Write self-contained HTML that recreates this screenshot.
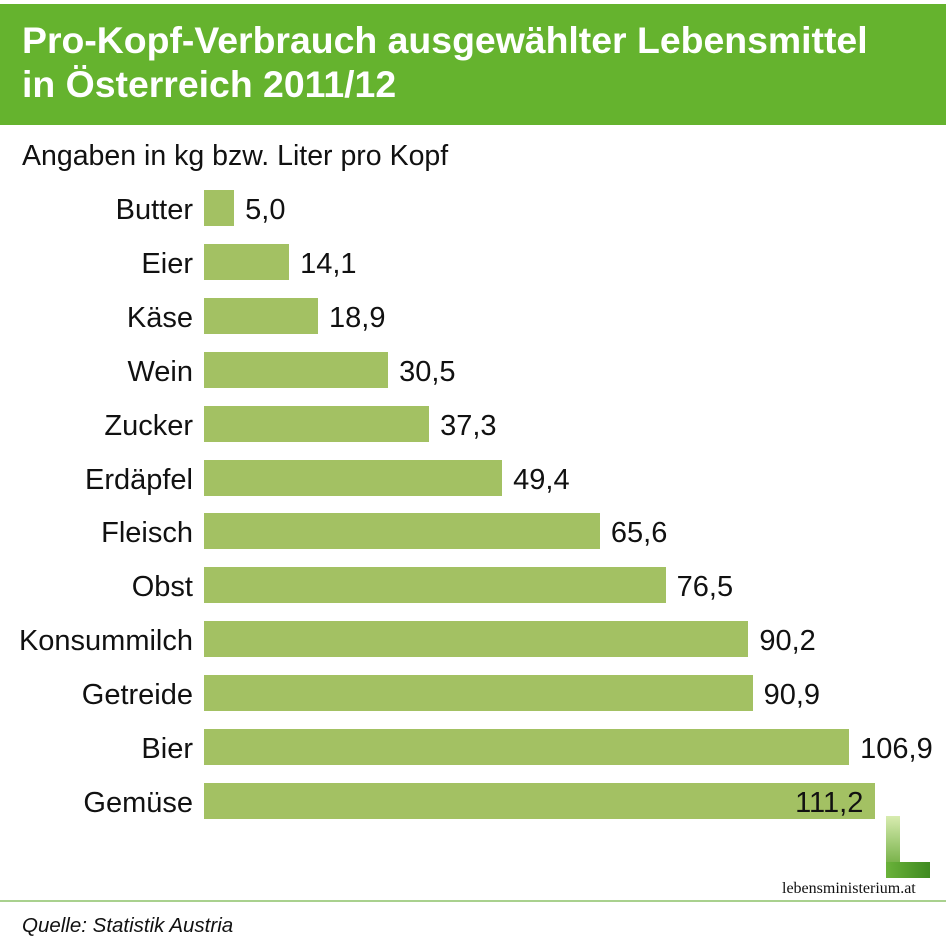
<!DOCTYPE html>
<html><head><meta charset="utf-8"><style>
body{margin:0;width:946px;height:942px;background:#fff;position:relative;overflow:hidden;font-family:"Liberation Sans",sans-serif}
.hd{position:absolute;left:0;top:4px;width:946px;height:121px;background:#65b32e}
.t{position:absolute;left:22px;color:#fff;font-weight:bold;font-size:37.4px;white-space:nowrap;line-height:1}
.sub{position:absolute;left:22px;top:142px;font-size:28.5px;color:#111;line-height:1;white-space:nowrap}
.lab{position:absolute;right:753px;font-size:29px;color:#111;white-space:nowrap;line-height:1}
.bar{position:absolute;left:204px;height:36px;background:#a3c163}
.v{position:absolute;font-size:29px;color:#111;line-height:1;white-space:nowrap}
</style></head><body>
<div class="hd"></div>
<div class="t" style="top:22px">Pro-Kopf-Verbrauch ausgewählter Lebensmittel</div>
<div class="t" style="top:66px">in Österreich 2011/12</div>
<div class="sub">Angaben in kg bzw. Liter pro Kopf</div>
<div id="c"></div>
<script>
var d=[["Butter",5.0,"5,0"],["Eier",14.1,"14,1"],["Käse",18.9,"18,9"],["Wein",30.5,"30,5"],["Zucker",37.3,"37,3"],["Erdäpfel",49.4,"49,4"],["Fleisch",65.6,"65,6"],["Obst",76.5,"76,5"],["Konsummilch",90.2,"90,2"],["Getreide",90.9,"90,9"],["Bier",106.9,"106,9"],["Gemüse",111.2,"111,2"]];
var h="";d.forEach(function(r,i){var y=190+i*53.9;var w=r[1]*6.035;
h+='<div class="lab" style="top:'+(y+6)+'px">'+r[0]+'</div><div class="bar" style="top:'+y+'px;width:'+w+'px"></div>';
if(i==11)h+='<div class="v" style="top:'+(y+6)+'px;left:'+(204+w-80)+'px">'+r[2]+'</div>';
else h+='<div class="v" style="top:'+(y+6)+'px;left:'+(204+w+11)+'px">'+r[2]+'</div>';});
document.getElementById("c").innerHTML=h;
</script>
<div style="position:absolute;left:886px;top:816px;width:14px;height:62px;background:linear-gradient(#d8ecb0,#5aa02a)"></div>
<div style="position:absolute;left:886px;top:862px;width:44px;height:16px;background:linear-gradient(90deg,#6ab23a,#3f8a20)"></div>
<div style="position:absolute;left:782px;top:880px;font-family:'Liberation Serif',serif;font-size:16px;color:#111">lebensministerium.at</div>
<div style="position:absolute;left:0;top:900px;width:946px;height:2px;background:#a9d18e"></div>
<div style="position:absolute;left:22px;top:914px;font-size:20.5px;font-style:italic;color:#111;white-space:nowrap">Quelle: Statistik Austria</div>
</body></html>
